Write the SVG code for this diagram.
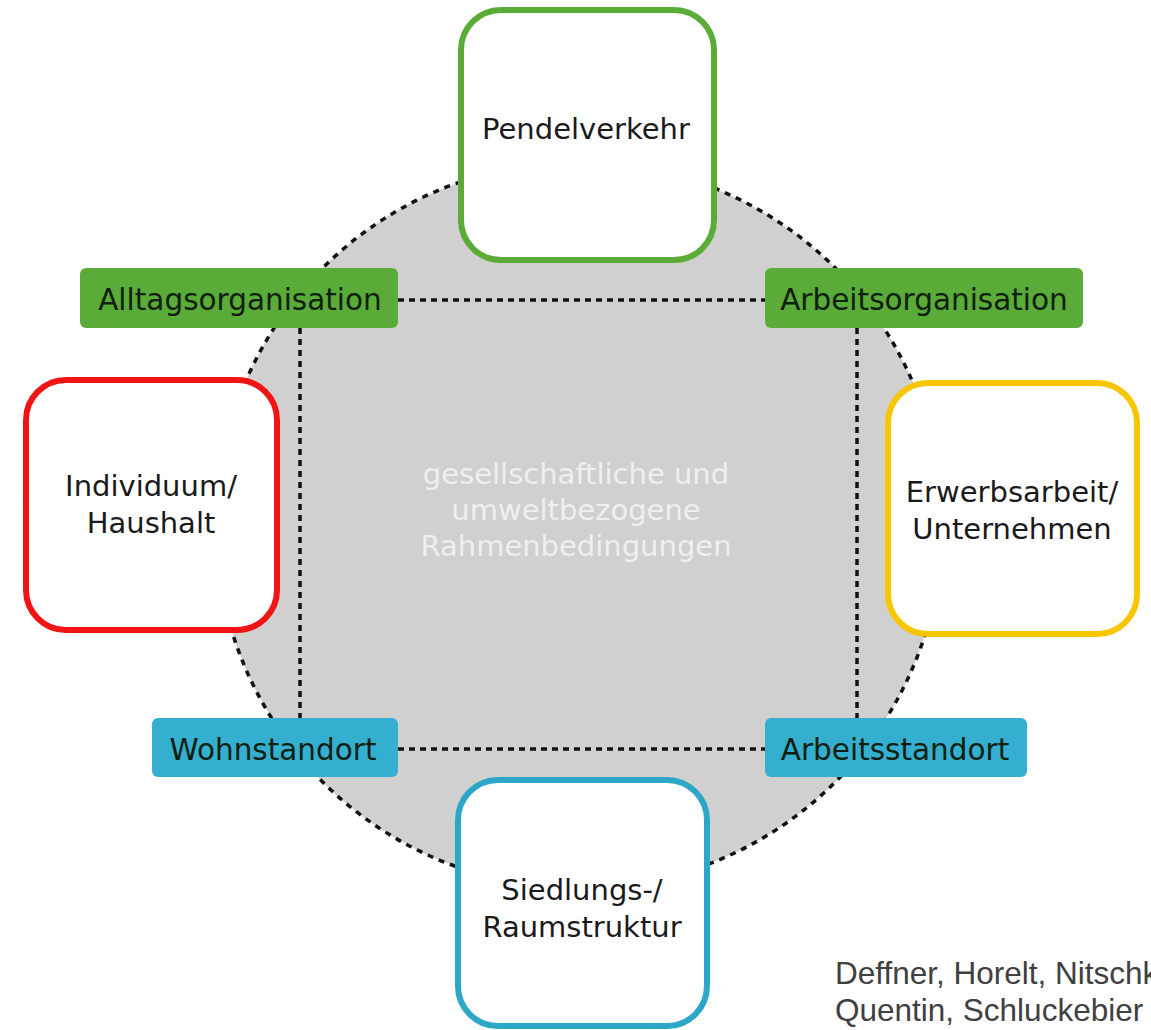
<svg xmlns="http://www.w3.org/2000/svg" width="1151" height="1030" viewBox="0 0 1151 1030">
<style>
.box{fill:#ffffff;stroke-width:6}
.bt{font-family:"DejaVu Sans","Verdana",sans-serif;font-size:29px;fill:#1a1a1a;text-anchor:middle}
.lbl{font-family:"DejaVu Sans","Verdana",sans-serif;font-size:29.5px;fill:#102010;text-anchor:middle}
.ct{font-family:"DejaVu Sans","Verdana",sans-serif;font-size:29px;fill:#efefef;text-anchor:middle}
.dash{fill:none;stroke:#111;stroke-width:3.5;stroke-dasharray:6 5}
.src{font-family:"Liberation Sans",Arial,sans-serif;font-size:31.5px;fill:#404040}
</style>
<rect width="1151" height="1030" fill="#ffffff"/>
<g id="background">
<circle cx="579" cy="525" r="363" fill="#d0d0d0" stroke="#111" stroke-width="3.5" stroke-dasharray="6 6"/>
<text class="ct" x="576" y="484">gesellschaftliche und</text>
<text class="ct" x="576" y="520">umweltbezogene</text>
<text class="ct" x="576" y="556">Rahmenbedingungen</text>
</g>
<g id="connectors">
<line class="dash" x1="398" y1="300" x2="765" y2="300"/>
<line class="dash" x1="398" y1="749" x2="765" y2="749"/>
<line class="dash" x1="300" y1="328" x2="300" y2="718"/>
<line class="dash" x1="857" y1="328" x2="857" y2="718"/>
</g>
<g id="pendelverkehr">
<rect class="box" x="461" y="10" width="253" height="250" rx="40" stroke="#5aab37"/>
<text class="bt" x="586" y="139">Pendelverkehr</text>
</g>
<g id="individuum">
<rect class="box" x="26" y="380" width="251" height="250" rx="40" stroke="#f01414"/>
<text class="bt" x="151" y="496">Individuum/</text>
<text class="bt" x="151" y="533">Haushalt</text>
</g>
<g id="erwerbsarbeit">
<rect class="box" x="888" y="383" width="249" height="251" rx="40" stroke="#f7c600"/>
<text class="bt" x="1012" y="502">Erwerbsarbeit/</text>
<text class="bt" x="1012" y="539">Unternehmen</text>
</g>
<g id="siedlung">
<rect class="box" x="458" y="780" width="249" height="246" rx="40" stroke="#2da7c7"/>
<text class="bt" x="582" y="900">Siedlungs-/</text>
<text class="bt" x="582" y="937">Raumstruktur</text>
</g>
<g id="alltagsorganisation">
<rect x="80" y="268" width="318" height="60" rx="6" fill="#5aab37"/>
<text class="lbl" x="240" y="310">Alltagsorganisation</text>
</g>
<g id="arbeitsorganisation">
<rect x="765" y="268" width="318" height="60" rx="6" fill="#5aab37"/>
<text class="lbl" x="924" y="310">Arbeitsorganisation</text>
</g>
<g id="wohnstandort">
<rect x="152" y="718" width="246" height="59" rx="6" fill="#35afd0"/>
<text class="lbl" x="273" y="760">Wohnstandort</text>
</g>
<g id="arbeitsstandort">
<rect x="765" y="718" width="262" height="59" rx="6" fill="#35afd0"/>
<text class="lbl" x="895" y="760">Arbeitsstandort</text>
</g>
<g id="source">
<text class="src" x="835" y="984">Deffner, Horelt, Nitschk</text>
<text class="src" x="835" y="1021">Quentin, Schluckebier</text>
</g>
</svg>
